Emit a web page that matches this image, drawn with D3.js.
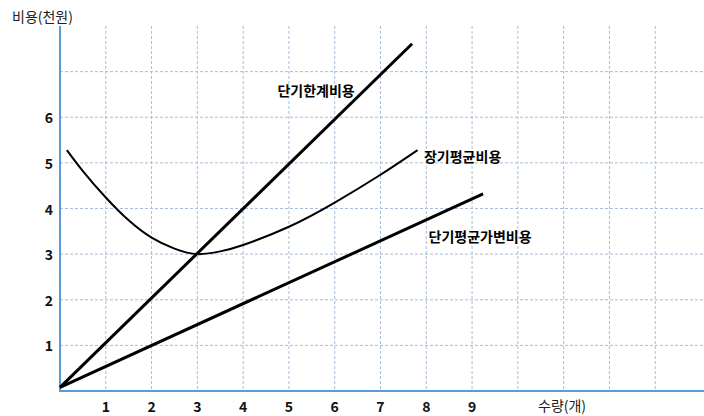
<!DOCTYPE html>
<html>
<head>
<meta charset="utf-8">
<script src="https://cdn.jsdelivr.net/npm/d3@7"></script>
<style>
  body { margin: 0; background: #fff; }
  text { font-family: "Noto Sans CJK KR", "Noto Sans", sans-serif; }
</style>
</head>
<body>
<script>
"use strict";
// chart data
var xTicks = [1, 2, 3, 4, 5, 6, 7, 8, 9];
var yTicks = [1, 2, 3, 4, 5, 6];
var xGrid = d3.range(1, 14);
var yGrid = d3.range(1, 8);

// 단기한계비용 (straight line)
var mcLine = [[0, 0.08], [7.69, 7.61]];
// 단기평균가변비용 (straight line)
var avcLine = [[0, 0.08], [9.24, 4.32]];
// 장기평균비용 (U-shaped curve)
var lacCurve = [[0.15, 5.28], [0.5, 4.82], [1, 4.24], [1.5, 3.74], [2, 3.36], [2.5, 3.12],
                [3, 3.0], [3.5, 3.06], [4, 3.2], [5, 3.6], [6, 4.13], [7, 4.74], [7.81, 5.28]];

var seriesLabels = [
  {text: '단기한계비용', x: 4.75, y: 6.6},
  {text: '장기평균비용', x: 7.95, y: 5.14},
  {text: '단기평균가변비용', x: 8.05, y: 3.4}
];

(function() {
  var width = 704, height = 416;
  var x0 = 60, x1 = 701, y0 = 391, y1 = 26;

  var svg = d3.select('body').append('svg')
    .attr('width', width)
    .attr('height', height);

  var x = d3.scaleLinear().domain([0, 14]).range([x0, x1]);
  var y = d3.scaleLinear().domain([0, 8]).range([y0, y1]);

  var gridColor = '#a9bdd6';

  // vertical grid
  svg.append('g').selectAll('line')
    .data(xGrid).enter().append('line')
    .attr('x1', function(d) { return x(d); })
    .attr('x2', function(d) { return x(d); })
    .attr('y1', y1).attr('y2', y0)
    .attr('stroke', gridColor)
    .attr('stroke-width', 1)
    .attr('stroke-dasharray', '3,2');

  // horizontal grid
  svg.append('g').selectAll('line')
    .data(yGrid).enter().append('line')
    .attr('x1', x0).attr('x2', width)
    .attr('y1', function(d) { return y(d); })
    .attr('y2', function(d) { return y(d); })
    .attr('stroke', gridColor)
    .attr('stroke-width', 1)
    .attr('stroke-dasharray', '3,2');

  // axes
  svg.append('line')
    .attr('x1', x0).attr('x2', x0)
    .attr('y1', y1).attr('y2', y0 + 1)
    .attr('stroke', '#5b9bd5').attr('stroke-width', 2);
  svg.append('line')
    .attr('x1', x0 - 1).attr('x2', width)
    .attr('y1', y0).attr('y2', y0)
    .attr('stroke', '#5b9bd5').attr('stroke-width', 2);

  // tick labels
  svg.append('g').selectAll('text')
    .data(yTicks).enter().append('text')
    .attr('x', 53)
    .attr('y', function(d) { return y(d); })
    .attr('text-anchor', 'end')
    .attr('dominant-baseline', 'central')
    .attr('font-size', 14)
    .attr('font-weight', 'bold')
    .attr('fill', '#111')
    .text(function(d) { return d; });

  svg.append('g').selectAll('text')
    .data(xTicks).enter().append('text')
    .attr('x', function(d) { return x(d); })
    .attr('y', 406)
    .attr('text-anchor', 'middle')
    .attr('dominant-baseline', 'central')
    .attr('font-size', 14)
    .attr('font-weight', 'bold')
    .attr('fill', '#111')
    .text(function(d) { return d; });

  // axis titles
  svg.append('text')
    .attr('x', 12).attr('y', 16)
    .attr('dominant-baseline', 'central')
    .attr('font-size', 14)
    .attr('fill', '#222')
    .text('비용(천원)');
  svg.append('text')
    .attr('x', 538).attr('y', 405)
    .attr('dominant-baseline', 'central')
    .attr('font-size', 14)
    .attr('fill', '#222')
    .text('수량(개)');

  // lines
  var line = d3.line()
    .x(function(d) { return x(d[0]); })
    .y(function(d) { return y(d[1]); });
  var curve = d3.line()
    .x(function(d) { return x(d[0]); })
    .y(function(d) { return y(d[1]); })
    .curve(d3.curveNatural);

  svg.append('path')
    .attr('d', line(mcLine))
    .attr('fill', 'none').attr('stroke', '#000').attr('stroke-width', 3);
  svg.append('path')
    .attr('d', line(avcLine))
    .attr('fill', 'none').attr('stroke', '#000').attr('stroke-width', 3);
  svg.append('path')
    .attr('d', curve(lacCurve))
    .attr('fill', 'none').attr('stroke', '#000').attr('stroke-width', 2);

  // series labels
  svg.append('g').selectAll('text')
    .data(seriesLabels).enter().append('text')
    .attr('x', function(d) { return x(d.x); })
    .attr('y', function(d) { return y(d.y); })
    .attr('dominant-baseline', 'central')
    .attr('font-size', 14)
    .attr('font-weight', 'bold')
    .attr('fill', '#000')
    .text(function(d) { return d.text; });
})();
</script>
</body>
</html>
